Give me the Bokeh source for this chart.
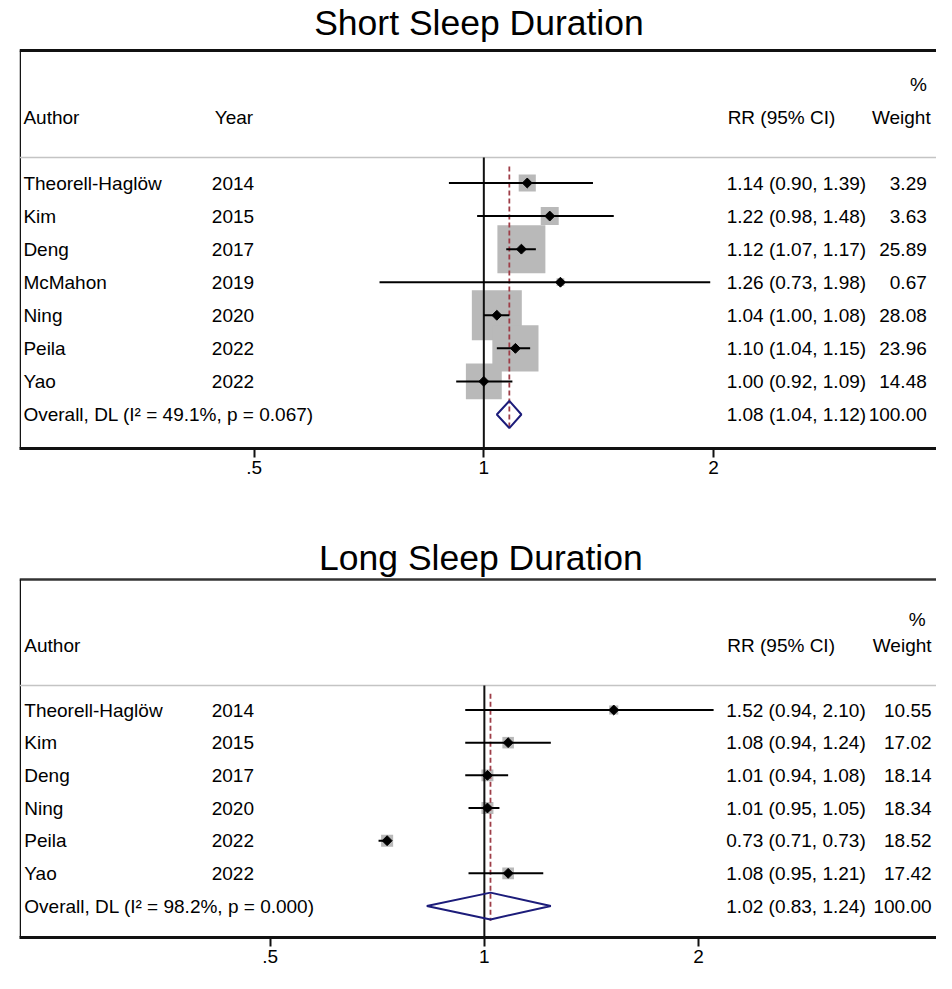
import math
from bokeh.plotting import figure
from bokeh.models import (Range1d, LogScale, LogAxis, FixedTicker,
                          ColumnDataSource, Label)
from bokeh.layouts import column
from bokeh.core.properties import value
from bokeh.embed import file_html
from bokeh.resources import INLINE

# ---------------- data ----------------
short_title = "Short Sleep Duration"
short_authors = ["Theorell-Haglöw", "Kim", "Deng", "McMahon", "Ning", "Peila", "Yao"]
short_years = [2014, 2015, 2017, 2019, 2020, 2022, 2022]
short_rr = [1.14, 1.22, 1.12, 1.26, 1.04, 1.10, 1.00]
short_lo = [0.90, 0.98, 1.07, 0.73, 1.00, 1.04, 0.92]
short_hi = [1.39, 1.48, 1.17, 1.98, 1.08, 1.15, 1.09]
short_weight = [3.29, 3.63, 25.89, 0.67, 28.08, 23.96, 14.48]
short_overall = [1.08, 1.04, 1.12]   # RR, lower, upper
short_i2 = 49.1
short_p = 0.067

long_title = "Long Sleep Duration"
long_authors = ["Theorell-Haglöw", "Kim", "Deng", "Ning", "Peila", "Yao"]
long_years = [2014, 2015, 2017, 2020, 2022, 2022]
long_rr = [1.52, 1.08, 1.01, 1.01, 0.73, 1.08]
long_lo = [0.94, 0.94, 0.94, 0.95, 0.71, 0.95]
long_hi = [2.10, 1.24, 1.08, 1.05, 0.73, 1.21]
long_weight = [10.55, 17.02, 18.14, 18.34, 18.52, 17.42]
long_overall = [1.02, 0.83, 1.24]
long_i2 = 98.2
long_p = 0.000

null_value = 1.0
tick_values = [0.5, 1, 2]
tick_labels = [".5", "1", "2"]

# ---------------- style / layout ----------------
FONT = "Liberation Sans"
FS = "19px"
W = 936
SX = W / 944.0


def fx(ref_x):
    return (ref_x - 8) * SX


def panel(title, authors, years, rr, lo, hi, weight, overall, i2, pval, L):
    H = L["H"]
    oy = L["oy"]

    def fy(ref_y):
        return ref_y - oy

    left = int(round(fx(L["left"])))
    axis_y = fy(L["axis"])
    x_one = fx(L["one"])
    ppl = L["ppl"] * SX
    row0 = fy(L["row0"])
    gap = L["gap"]
    n = len(authors)

    p = figure(width=W, height=H, output_backend="svg", toolbar_location=None,
               x_axis_type=None, y_axis_type=None,
               x_range=Range1d(left, W), y_range=Range1d(axis_y, 0),
               min_border_left=left, min_border_right=0, min_border_top=0,
               min_border_bottom=int(H - axis_y), outline_line_color=None,
               background_fill_color="white", border_fill_color="white")
    p.extra_x_ranges = {"rr": Range1d(2 ** ((left - x_one) / ppl),
                                      2 ** ((W - x_one) / ppl))}
    p.extra_x_scales = {"rr": LogScale()}
    p.extra_y_ranges = {"rows": Range1d((axis_y - row0) / gap, (0 - row0) / gap)}

    src = ColumnDataSource(dict(
        row=list(range(n)),
        author=authors,
        year=[str(y) for y in years],
        rr=rr, lo=lo, hi=hi,
        box=[L["box_k"] * math.sqrt(w) for w in weight],
        ci=[f"{a:.2f} ({b:.2f}, {c:.2f})" for a, b, c in zip(rr, lo, hi)],
        wt=[f"{w:.2f}" for w in weight],
    ))
    ov, ov_lo, ov_hi = overall
    osrc = ColumnDataSource(dict(
        row=[n],
        label=[f"Overall, DL (I\u00b2 = {i2:.1f}%, p = {pval:.3f})"],
        ci=[f"{ov:.2f} ({ov_lo:.2f}, {ov_hi:.2f})"],
        wt=[f"{100:.2f}"],
    ))

    border_y = fy(L["border"])
    sep_y = fy(L["sep"])
    # frame lines
    p.segment(x0=[left], x1=[W], y0=[border_y], y1=[border_y],
              line_color=L["border_color"], line_width=L["border_w"])
    p.segment(x0=[left + 0.75], x1=[left + 0.75], y0=[border_y], y1=[axis_y],
              line_color="#111111", line_width=1.5)
    p.segment(x0=[left], x1=[W], y0=[sep_y], y1=[sep_y],
              line_color="#c4c4c4", line_width=1.5)

    # weight boxes
    p.scatter(x="rr", y="row", size="box", marker="square", source=src,
              fill_color="#b9b9b9", line_color=None,
              x_range_name="rr", y_range_name="rows")
    # null line
    p.segment(x0=[null_value], x1=[null_value], y0=[sep_y], y1=[axis_y],
              line_color="#111111", line_width=2, x_range_name="rr")
    # overall dashed line
    p.segment(x0=[ov], x1=[ov], y0=[-0.5], y1=[n + 0.45],
              line_color="#9e3d47", line_width=1.8, line_dash="5 3",
              x_range_name="rr", y_range_name="rows")
    # CI lines
    p.segment(x0="lo", x1="hi", y0="row", y1="row", source=src,
              line_color="black", line_width=2,
              x_range_name="rr", y_range_name="rows")
    # point estimates
    p.scatter(x="rr", y="row", marker="square", angle=math.pi / 4, size=7,
              source=src, fill_color="black", line_color="black",
              x_range_name="rr", y_range_name="rows")
    # overall diamond
    h = 0.41
    p.patch(x=[ov_lo, ov, ov_hi, ov, ov_lo], y=[n, n - h, n, n + h, n],
            fill_color=None, line_color="#1c1c7a", line_width=2,
            x_range_name="rr", y_range_name="rows")

    tk = dict(text_font=value(FONT), text_font_size=FS, text_baseline="middle",
              text_color="black", y_range_name="rows")
    p.text(x=fx(L["author_x"]), y="row", text="author", source=src, text_align="left", **tk)
    p.text(x=fx(L["year_x"]), y="row", text="year", source=src, text_align="left", **tk)
    p.text(x=fx(L["ci_x"]), y="row", text="ci", source=src, text_align="left", **tk)
    p.text(x=fx(L["wt_x"]), y="row", text="wt", source=src, text_align="right", **tk)
    p.text(x=fx(L["author_x"]), y="row", text="label", source=osrc, text_align="left", **tk)
    p.text(x=fx(L["ci_x"]), y="row", text="ci", source=osrc, text_align="left", **tk)
    p.text(x=fx(L["wt_x"]), y="row", text="wt", source=osrc, text_align="right", **tk)

    # title and headers
    def lab(x, y, t, align, size=FS):
        p.add_layout(Label(x=fx(x), y=fy(y), text=t, text_font=FONT,
                           text_font_size=size, text_align=align,
                           text_baseline="middle", text_color="black"))
    lab(L["title_x"], L["title_y"], title, "center", "35.5px")
    lab(L["pct_x"], L["pct_y"], "%", "right")
    lab(L["author_x"], L["head"], "Author", "left")
    if L["year_head_x"] is not None:
        lab(L["year_head_x"], L["head"], "Year", "left")
    lab(L["rrh_x"], L["head"], "RR (95% CI)", "left")
    lab(L["wth_x"], L["head"], "Weight", "right")

    ax = LogAxis(x_range_name="rr",
                 ticker=FixedTicker(ticks=tick_values, minor_ticks=[]),
                 major_label_overrides=dict(zip(tick_values, tick_labels)),
                 axis_line_width=3, axis_line_color="#111111",
                 major_tick_line_width=2, major_tick_line_color="#111111",
                 major_tick_out=9, major_tick_in=0,
                 minor_tick_out=0, minor_tick_in=0,
                 major_label_text_font=FONT, major_label_text_font_size=FS,
                 major_label_text_color="black", major_label_standoff=3)
    p.add_layout(ax, "below")
    return p


# layout constants are given in the reference picture's pixel positions
L1 = dict(H=497, oy=3, left=8, axis=451, one=486, ppl=236.5,
          row0=185.5, gap=33.07, box_k=9.43,
          border=53, border_color="#111111", border_w=3, sep=160,
          title_x=481, title_y=25, pct_x=942, pct_y=87, head=120,
          author_x=12, year_x=206, year_head_x=209, ci_x=736, wt_x=942,
          rrh_x=737, wth_x=946)
L2 = dict(H=476, oy=515, left=27, axis=955, one=496, ppl=216,
          row0=727.5, gap=32.67, box_k=2.8,
          border=597, border_color="#333333", border_w=2.5, sep=703,
          title_x=492.5, title_y=575, pct_x=941, pct_y=637, head=663,
          author_x=32, year_x=221, year_head_x=None, ci_x=740, wt_x=947,
          rrh_x=741, wth_x=947)

p1 = panel(short_title, short_authors, short_years, short_rr, short_lo, short_hi,
           short_weight, short_overall, short_i2, short_p, L1)
p2 = panel(long_title, long_authors, long_years, long_rr, long_lo, long_hi,
           long_weight, long_overall, long_i2, long_p, L2)

layout = column(p1, p2, spacing=0)
open("out.html", "w").write(file_html(layout, INLINE))
